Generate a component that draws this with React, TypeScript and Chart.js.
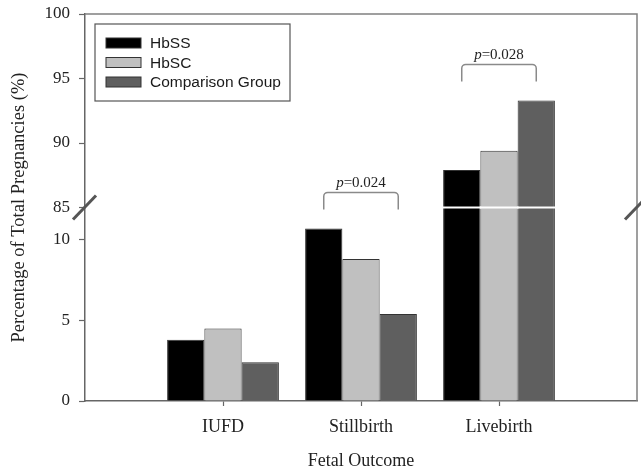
import React, { useEffect, useRef } from "react";
import { Chart, registerables } from "chart.js";

Chart.register(...registerables);

const categories = ["IUFD", "Stillbirth", "Livebirth"];
const hbss = [3.8, 10.7, 87.9];
const hbsc = [4.5, 8.8, 89.4];
const comparison = [2.4, 5.4, 93.3];
const seriesNames = ["HbSS", "HbSC", "Comparison Group"];
const seriesColors = ["#000000", "#c0c0c0", "#5f5f5f"];
const yTickLabels = [0, 5, 10, 85, 90, 95, 100];
const pCategories = ["Stillbirth", "Livebirth"];
const pValues = ["0.024", "0.028"];

// broken axis: lower segment 0..12, upper segment 85..100 compressed by 0.8
const BREAK_LOW = 12;
const BREAK_HIGH = 85;
const UPPER_K = 0.8;
const toAxis = (v: number) => (v <= BREAK_LOW ? v : BREAK_LOW + (v - BREAK_HIGH) * UPPER_K);
const fromAxis = (v: number) => (v < BREAK_LOW ? v : BREAK_HIGH + (v - BREAK_LOW) / UPPER_K);

const SERIF = "'Liberation Serif', 'Times New Roman', serif";
const SANS = "'Liberation Sans', Arial, sans-serif";

const decorPlugin = {
  id: "decor",
  afterDatasetsDraw(chart: any) {
    const ctx = chart.ctx;
    const yScale = chart.scales.y;
    const yBreak = yScale.getPixelForValue(BREAK_LOW);
    ctx.save();
    chart.data.datasets.forEach((ds: any, di: number) => {
      const meta = chart.getDatasetMeta(di);
      meta.data.forEach((el: any, i: number) => {
        const v = ds.data[i];
        if (v == null || v <= BREAK_LOW) return;
        const w = el.width;
        ctx.strokeStyle = "#ffffff";
        ctx.lineWidth = 2;
        ctx.beginPath();
        ctx.moveTo(el.x - w / 2 - 0.5, yBreak);
        ctx.lineTo(el.x + w / 2 + 1, yBreak);
        ctx.stroke();
      });
    });
    ctx.restore();
  },
  afterDraw(chart: any) {
    const ctx = chart.ctx;
    const ca = chart.chartArea;
    const yScale = chart.scales.y;
    const yBreak = yScale.getPixelForValue(BREAK_LOW);
    ctx.save();
    ctx.strokeStyle = "#808080";
    ctx.lineWidth = 1.5;
    ctx.beginPath();
    ctx.moveTo(ca.left, ca.top);
    ctx.lineTo(ca.right, ca.top);
    ctx.lineTo(ca.right, ca.bottom);
    ctx.stroke();

    ctx.strokeStyle = "#555555";
    ctx.lineWidth = 3;
    [ca.left, ca.right].forEach((x) => {
      ctx.beginPath();
      ctx.moveTo(x - 12, yBreak + 12);
      ctx.lineTo(x + 11, yBreak - 12);
      ctx.stroke();
    });

    const lx = ca.left + 10;
    const ly = ca.top + 10;
    ctx.strokeStyle = "#555555";
    ctx.lineWidth = 1.2;
    ctx.fillStyle = "#ffffff";
    ctx.fillRect(lx, ly, 195, 77);
    ctx.strokeRect(lx, ly, 195, 77);
    chart.data.datasets.forEach((ds: any, i: number) => {
      const cy = ly + 19 + i * 19.5;
      ctx.fillStyle = ds.backgroundColor;
      ctx.fillRect(lx + 11, cy - 5, 35, 10);
      ctx.strokeStyle = "#333333";
      ctx.lineWidth = 1;
      ctx.strokeRect(lx + 11, cy - 5, 35, 10);
      ctx.fillStyle = "#1a1a1a";
      ctx.font = `15.5px ${SANS}`;
      ctx.textBaseline = "middle";
      ctx.textAlign = "left";
      ctx.fillText(ds.label, lx + 55, cy + 1);
    });

    const labels = chart.data.labels;
    pCategories.forEach((cat, k) => {
      const idx = labels.indexOf(cat);
      if (idx < 0) return;
      const n = chart.data.datasets.length;
      const first = chart.getDatasetMeta(0).data[idx];
      const last = chart.getDatasetMeta(n - 1).data[idx];
      let minY = Infinity;
      for (let d = 0; d < n; d++) minY = Math.min(minY, chart.getDatasetMeta(d).data[idx].y);
      const x1 = first.x;
      const x2 = last.x;
      const legBottom = minY - 19;
      const top = minY - 36;
      const r = 4;
      ctx.strokeStyle = "#8a8a8a";
      ctx.lineWidth = 1.5;
      ctx.beginPath();
      ctx.moveTo(x1, legBottom);
      ctx.lineTo(x1, top + r);
      ctx.arcTo(x1, top, x1 + r, top, r);
      ctx.lineTo(x2 - r, top);
      ctx.arcTo(x2, top, x2, top + r, r);
      ctx.lineTo(x2, legBottom);
      ctx.stroke();
      const italic = `italic 15px ${SERIF}`;
      const normal = `15px ${SERIF}`;
      ctx.font = italic;
      const wp = ctx.measureText("p").width;
      ctx.font = normal;
      const rest = "=" + pValues[k];
      const wr = ctx.measureText(rest).width;
      const sx = (x1 + x2) / 2 - (wp + wr) / 2;
      ctx.fillStyle = "#222222";
      ctx.textBaseline = "alphabetic";
      ctx.textAlign = "left";
      ctx.font = italic;
      ctx.fillText("p", sx, top - 5);
      ctx.font = normal;
      ctx.fillText(rest, sx + wp, top - 5);
    });

    ctx.fillStyle = "#222222";
    ctx.font = `18px ${SERIF}`;
    ctx.textAlign = "center";
    ctx.textBaseline = "middle";
    ctx.fillText("Fetal Outcome", (ca.left + ca.right) / 2, 461);
    ctx.save();
    ctx.translate(19, (ca.top + ca.bottom) / 2);
    ctx.rotate(-Math.PI / 2);
    ctx.font = `18.5px ${SERIF}`;
    ctx.fillText("Percentage of Total Pregnancies (%)", 0, 0);
    ctx.restore();

    ctx.restore();
  },
};

export default function App() {
  const ref = useRef<HTMLCanvasElement | null>(null);
  useEffect(() => {
    document.body.style.margin = "0";
    const series = [hbss, hbsc, comparison];
    const chart = new Chart(ref.current as HTMLCanvasElement, {
      type: "bar",
      data: {
        labels: ["", ...categories, ""],
        datasets: series.map((s, i) => ({
          label: seriesNames[i],
          data: [null, ...s.map(toAxis), null],
          backgroundColor: seriesColors[i],
          borderColor: "#333333",
          borderWidth: 1,
          barPercentage: 1,
          categoryPercentage: 0.81,
        })),
      },
      options: {
        responsive: false,
        animation: false,
        layout: { padding: { top: 14, right: 4, bottom: 0, left: 0 } },
        plugins: { legend: { display: false }, tooltip: { enabled: false } },
        scales: {
          x: {
            offset: false,
            afterFit: (s: any) => {
              s.height = 70;
              s.paddingLeft = 0;
              s.paddingRight = 0;
            },
            grid: {
              display: true,
              drawOnChartArea: false,
              offset: false,
              tickLength: 5,
              tickWidth: 1.2,
              tickColor: (c: any) => (c.index === 0 || c.index === categories.length + 1 ? "rgba(0,0,0,0)" : "#666666"),
            },
            border: { color: "#666666", width: 1.5 },
            ticks: {
              color: "#222222",
              font: { family: SERIF, size: 18 },
              padding: 10,
              maxRotation: 0,
              autoSkip: false,
            },
          },
          y: {
            min: 0,
            max: toAxis(100),
            afterFit: (s: any) => {
              s.width = 85;
              s.paddingTop = 0;
              s.paddingBottom = 0;
            },
            afterBuildTicks: (s: any) => {
              s.ticks = yTickLabels.map((v) => ({ value: toAxis(v) }));
            },
            grid: {
              display: true,
              drawOnChartArea: false,
              tickLength: 6,
              tickWidth: 1.2,
              tickColor: "#666666",
            },
            border: { color: "#666666", width: 1.5 },
            ticks: {
              color: "#222222",
              font: { family: SERIF, size: 17 },
              padding: 9,
              callback: (v: any) => String(Math.round(fromAxis(Number(v)))),
            },
          },
        },
      },
      plugins: [decorPlugin],
    } as any);
    return () => chart.destroy();
  }, []);
  return (
    <div style={{ width: 641, height: 471 }}>
      <canvas ref={ref} width={641} height={471} style={{ display: "block" }} />
    </div>
  );
}
